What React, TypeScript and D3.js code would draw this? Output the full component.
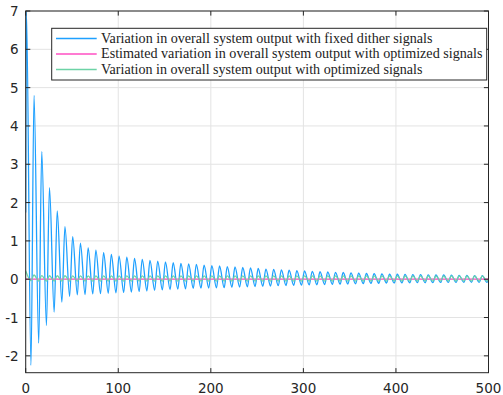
import * as d3 from 'd3';
import React from 'react';

// x ticks / y ticks
const xTicks = [0, 100, 200, 300, 400, 500];
const yTicks = [-2, -1, 0, 1, 2, 3, 4, 5, 6, 7];

// start of the fixed-dither response (before the first trough)
const blueStartX = [0, 0.8];
const blueStartY = [1.74, 7.0];

// oscillation timing
const period = 8.35;
const firstTroughX = 5.7;
const firstPeakX = 9.0;

// maxima of the fixed-dither response, one per cycle
const bluePeaks = [
    4.8, 3.33, 2.39, 1.78, 1.37, 1.11, 0.94, 0.82, 0.76, 0.69,
    0.645, 0.6, 0.575, 0.54, 0.52, 0.49, 0.47, 0.45, 0.43, 0.41,
    0.4, 0.385, 0.37, 0.355, 0.345, 0.33, 0.32, 0.305, 0.295, 0.28,
    0.265, 0.255, 0.245, 0.235, 0.225, 0.215, 0.205, 0.195, 0.19, 0.18,
    0.175, 0.165, 0.16, 0.15, 0.145, 0.14, 0.13, 0.13, 0.125, 0.12,
    0.12, 0.115, 0.11, 0.11, 0.105, 0.1, 0.1, 0.095, 0.095, 0.09,
];

// minima of the fixed-dither response, one per cycle
const blueTroughs = [
    -2.25, -1.67, -1.21, -0.86, -0.6, -0.45, -0.41, -0.4, -0.385, -0.375,
    -0.365, -0.355, -0.345, -0.335, -0.32, -0.305, -0.29, -0.28, -0.27, -0.26,
    -0.25, -0.24, -0.235, -0.23, -0.225, -0.22, -0.21, -0.205, -0.2, -0.19,
    -0.185, -0.18, -0.17, -0.165, -0.16, -0.155, -0.15, -0.145, -0.14, -0.135,
    -0.13, -0.125, -0.12, -0.115, -0.11, -0.105, -0.1, -0.1, -0.095, -0.095,
    -0.09, -0.09, -0.09, -0.085, -0.085, -0.085, -0.08, -0.08, -0.08, -0.08,
];

// optimized-signal response
const greenStartY = 0.22;
const greenPeaks = [
    0.11, 0.095, 0.09, 0.09, 0.09, 0.085, 0.085, 0.085, 0.085, 0.085,
    0.085, 0.085, 0.085, 0.085, 0.085, 0.085, 0.085, 0.085, 0.085, 0.085,
    0.085, 0.085, 0.085, 0.085, 0.085, 0.085, 0.085, 0.085, 0.085, 0.085,
    0.085, 0.085, 0.085, 0.085, 0.085, 0.085, 0.085, 0.085, 0.085, 0.085,
    0.085, 0.085, 0.085, 0.085, 0.085, 0.085, 0.085, 0.085, 0.085, 0.085,
    0.085, 0.085, 0.085, 0.085, 0.085, 0.085, 0.085, 0.085, 0.085, 0.085,
];
const greenTroughs = [
    -0.04, -0.05, -0.05, -0.05, -0.05, -0.05, -0.05, -0.05, -0.05, -0.05,
    -0.05, -0.05, -0.05, -0.05, -0.05, -0.05, -0.05, -0.05, -0.05, -0.05,
    -0.05, -0.05, -0.05, -0.05, -0.05, -0.05, -0.05, -0.05, -0.05, -0.05,
    -0.05, -0.05, -0.05, -0.05, -0.05, -0.05, -0.05, -0.05, -0.05, -0.05,
    -0.05, -0.05, -0.05, -0.05, -0.05, -0.05, -0.05, -0.05, -0.05, -0.05,
    -0.05, -0.05, -0.05, -0.05, -0.05, -0.05, -0.05, -0.05, -0.05, -0.05,
];

// estimated response (flat)
const pinkX = [0, 500];
const pinkY = [0, 0];

const legendLabels = [
    'Variation in overall system output with fixed dither signals',
    'Estimated variation in overall system output with optimized signals',
    'Variation in overall system output with optimized signals',
];
// rendered widths of the legend labels in the reference
const legendWidths = [331.5, 381.5, 321.5];
const colors = ['#1ea0ff', '#ff4fc3', '#6dd3a6'];

function extrema(startX: number[], startY: number[], troughs: number[], peaks: number[]) {
    const pts: [number, number][] = startX.map((x, i) => [x, startY[i]]);
    troughs.forEach((t, i) => {
        pts.push([firstTroughX + i * period, t]);
        pts.push([firstPeakX + i * period, peaks[i]]);
    });
    return pts;
}

export default function App() {
    const W = 503, H = 395;
    const left = 25.7, right = 488.5, top = 11, bottom = 372.7;

    const x = d3.scaleLinear().domain([0, 500]).range([left, right]);
    const y = d3.scaleLinear().domain([-2.44, 7]).range([bottom, top]);

    const line = d3.line<[number, number]>()
        .x((d) => x(d[0]))
        .y((d) => y(d[1]))
        .curve(d3.curveMonotoneX);

    const blue = extrema(blueStartX, blueStartY, blueTroughs, bluePeaks);
    const green = extrema([0], [greenStartY], greenTroughs, greenPeaks);
    const pink: [number, number][] = pinkX.map((v, i) => [v, pinkY[i]]);

    const axisColor = '#262626';
    const tickLen = 4.6;

    return (
        <svg width={W} height={H} style={{ position: 'absolute', left: 0, top: 0, background: '#fff' }}>
            <defs>
                <clipPath id="plotArea">
                    <rect x={left} y={top} width={right - left} height={bottom - top} />
                </clipPath>
            </defs>
            <rect x={left} y={top} width={right - left} height={bottom - top} fill="#fff" />

            {/* grid */}
            <g stroke="#e3e3e3" strokeWidth={1}>
                {xTicks.map((t) => (
                    <line key={'gx' + t} x1={x(t)} x2={x(t)} y1={top} y2={bottom} />
                ))}
                {yTicks.map((t) => (
                    <line key={'gy' + t} x1={left} x2={right} y1={y(t)} y2={y(t)} />
                ))}
            </g>

            {/* series */}
            <g clipPath="url(#plotArea)" fill="none">
                <path d={line(blue) || ''} stroke={colors[0]} strokeWidth={1.3} />
                <path d={line(pink) || ''} stroke={colors[1]} strokeWidth={1.3} />
                <path d={line(green) || ''} stroke={colors[2]} strokeWidth={1.3} />
            </g>

            {/* box and ticks */}
            <rect x={left} y={top} width={right - left} height={bottom - top} fill="none" stroke={axisColor} strokeWidth={1} />
            <g stroke={axisColor} strokeWidth={1}>
                {xTicks.map((t) => (
                    <g key={'tx' + t}>
                        <line x1={x(t)} x2={x(t)} y1={bottom} y2={bottom - tickLen} />
                        <line x1={x(t)} x2={x(t)} y1={top} y2={top + tickLen} />
                    </g>
                ))}
                {yTicks.map((t) => (
                    <g key={'ty' + t}>
                        <line x1={left} x2={left + tickLen} y1={y(t)} y2={y(t)} />
                        <line x1={right} x2={right - tickLen} y1={y(t)} y2={y(t)} />
                    </g>
                ))}
            </g>

            {/* tick labels */}
            <g fontFamily="DejaVu Sans" fontSize={13.5} fill={axisColor}>
                {xTicks.map((t) => (
                    <text key={'lx' + t} x={x(t)} y={bottom + 20} textAnchor="middle">{t}</text>
                ))}
                {yTicks.map((t) => (
                    <text key={'ly' + t} x={left - 7} y={y(t) + 5} textAnchor="end">{t < 0 ? '-' + Math.abs(t) : t}</text>
                ))}
            </g>

            {/* legend */}
            <g>
                <rect x={51.7} y={28.3} width={435} height={51.7} fill="#fff" stroke={axisColor} strokeWidth={1} />
                {legendLabels.map((label, i) => {
                    const cy = 38.5 + i * 15.5;
                    return (
                        <g key={label}>
                            <line x1={56} x2={96.7} y1={cy} y2={cy} stroke={colors[i]} strokeWidth={1.5} />
                            <text x={101} y={cy + 4} fontFamily="Liberation Serif" fontSize={13.6}
                                textLength={legendWidths[i]} lengthAdjust="spacingAndGlyphs" fill="#222">{label}</text>
                        </g>
                    );
                })}
            </g>
        </svg>
    );
}
